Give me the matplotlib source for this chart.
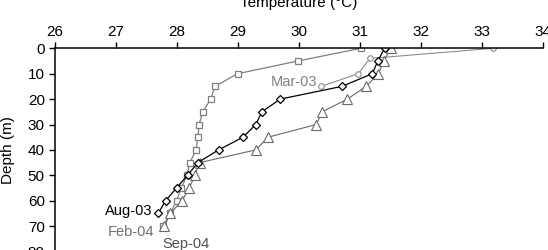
import matplotlib
matplotlib.use("Agg")
import matplotlib.pyplot as plt

plt.rcParams['font.family'] = ['Liberation Sans', 'DejaVu Sans']

# temperature profiles (depth in m, temperature in degC)
mar03_depth = [0, 4, 10, 15]
mar03_temp = [33.19, 31.17, 30.98, 30.37]

aug03_depth = [0, 5, 10, 15, 20, 25, 30, 35, 40, 45, 50, 55, 60, 65]
aug03_temp = [31.41, 31.30, 31.21, 30.71, 29.70, 29.40, 29.30, 29.09,
              28.69, 28.35, 28.18, 28.00, 27.82, 27.70]

feb04_depth = [0, 5, 10, 15, 20, 25, 30, 35, 40, 45, 50, 55, 60, 65, 70]
feb04_temp = [31.02, 29.99, 29.00, 28.63, 28.56, 28.43, 28.37, 28.35,
              28.32, 28.22, 28.17, 28.08, 28.00, 27.90, 27.78]

sep04_depth = [0, 5, 10, 15, 20, 25, 30, 35, 40, 45, 50, 55, 60, 65, 70]
sep04_temp = [31.51, 31.40, 31.31, 31.11, 30.80, 30.39, 30.29, 29.50,
              29.30, 28.38, 28.30, 28.21, 28.09, 27.90, 27.80]

x_ticks = [26, 27, 28, 29, 30, 31, 32, 33, 34]
y_ticks = [0, 10, 20, 30, 40, 50, 60, 70, 80]

fig = plt.figure(figsize=(5.48, 2.5), dpi=100)
ax = fig.add_axes([0.0995, -0.006, 0.8905, 0.8128])

ax.plot(mar03_temp, mar03_depth, color='#8c8c8c', lw=0.8, marker='o', ms=4,
        mfc='white', mec='#8c8c8c', mew=0.8)
ax.plot(feb04_temp, feb04_depth, color='#7f7f7f', lw=0.9, marker='s', ms=5,
        mfc='white', mec='#7f7f7f', mew=0.9)
ax.plot(sep04_temp, sep04_depth, color='#6a6a6a', lw=0.8, marker='^', ms=7,
        mfc='white', mec='#6a6a6a', mew=0.8)
ax.plot(aug03_temp, aug03_depth, color='black', lw=0.9, marker='D', ms=4.5,
        mfc='white', mec='black', mew=0.9)

ax.text(30.30, 13.2, 'Mar-03', color='#808080', fontsize=10.5, ha='right', va='center')
ax.text(27.60, 64, 'Aug-03', color='black', fontsize=10.5, ha='right', va='center')
ax.text(27.63, 72.3, 'Feb-04', color='#707070', fontsize=10.5, ha='right', va='center')
ax.text(27.76, 77.2, 'Sep-04', color='#505050', fontsize=10.5, ha='left', va='center')

ax.set_xlim(26, 34)
ax.set_ylim(80, 0)
ax.set_xticks(x_ticks)
ax.set_yticks(y_ticks)
ax.xaxis.tick_top()
ax.xaxis.set_label_position('top')
ax.set_xlabel('Temperature (°C)', fontsize=11, labelpad=12.5)
ax.set_ylabel('Depth (m)', fontsize=11)
ax.yaxis.set_label_coords(-0.082, 0.5)
ax.tick_params(axis='both', direction='out', length=4, width=1, labelsize=11, pad=3)

ax.spines['right'].set_visible(False)
ax.spines['bottom'].set_visible(False)
ax.spines['top'].set_linewidth(1.1)
ax.spines['left'].set_linewidth(1.1)

fig.savefig('out.png', dpi=100)
